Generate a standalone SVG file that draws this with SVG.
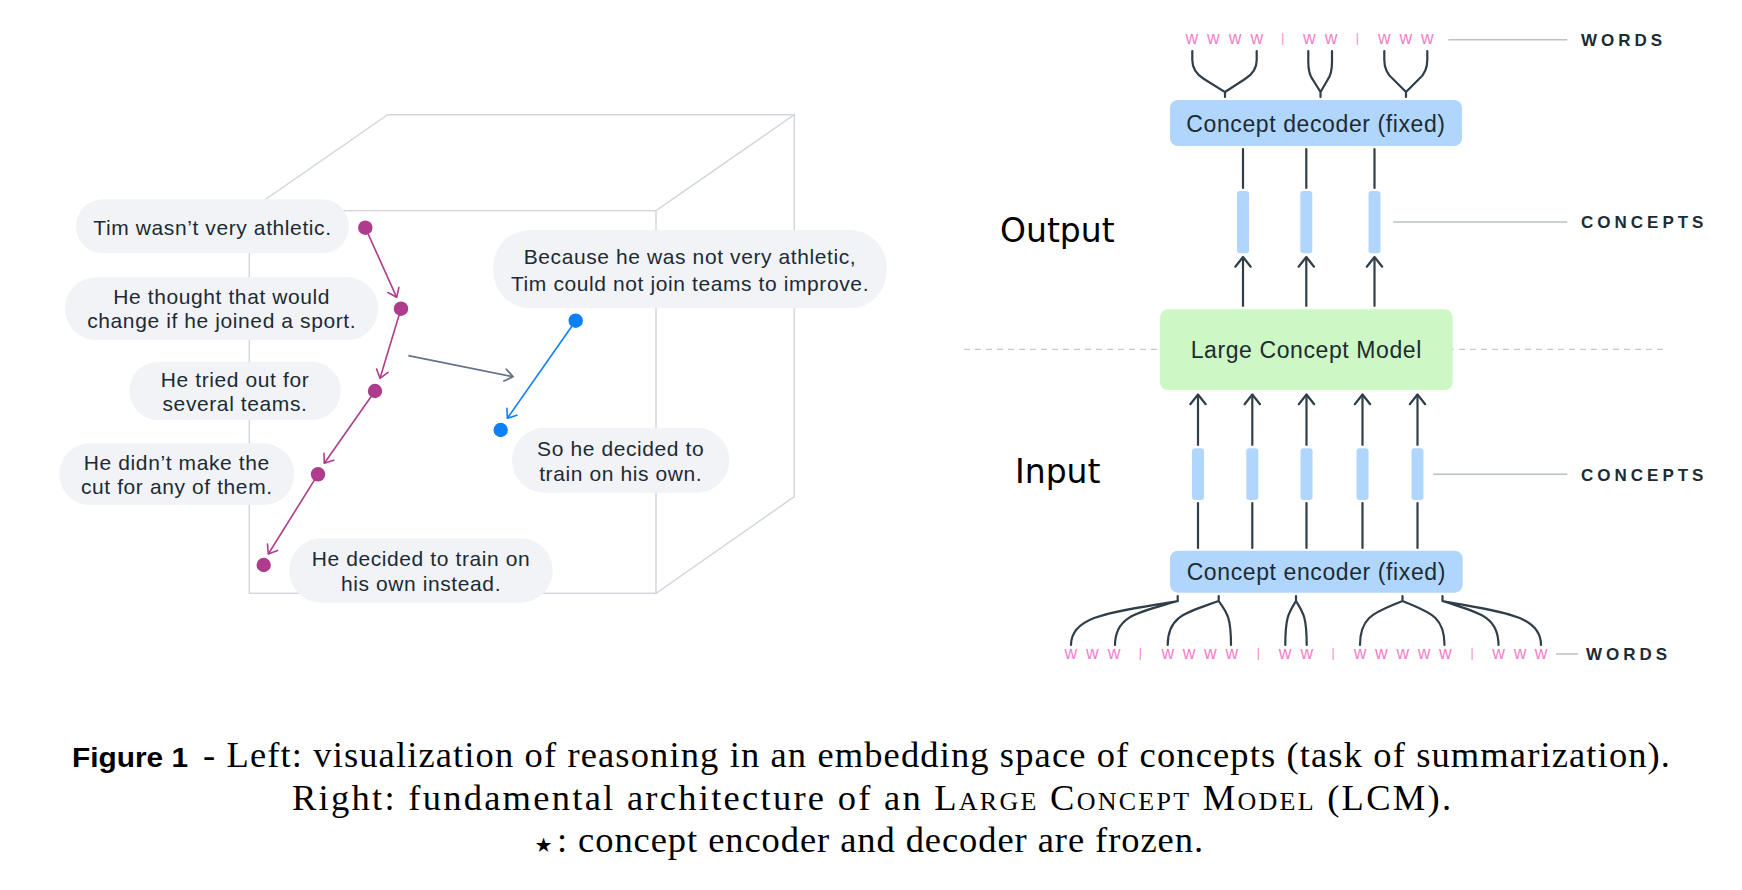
<svg xmlns="http://www.w3.org/2000/svg" width="1742" height="890" viewBox="0 0 1742 890">
<style>
.cube{fill:none;stroke:#d3d8df;stroke-width:1.5}
.bub{fill:#f1f3f7}
.bt{font-family:'Liberation Sans',Arial,sans-serif;font-size:21px;fill:#1c2b33;text-anchor:middle;letter-spacing:0.6px}
.pdot{fill:#ae3c8c}
.bdot{fill:#0b80f7}
.box{fill:#b1d6fd}
.lcm{fill:#cdf7c4}
.bar{fill:#b1d6fd}
.lbl{font-family:'Liberation Sans',Arial,sans-serif;font-size:23px;fill:#1c2b33;text-anchor:middle;letter-spacing:0.6px}
.side{font-family:'DejaVu Sans',sans-serif;font-size:33px;fill:#000}
.tag{font-family:'Liberation Sans',Arial,sans-serif;font-size:17px;font-weight:bold;fill:#1c2b33;letter-spacing:4px}
.w{font-family:'Liberation Sans',Arial,sans-serif;font-size:17.5px;fill:#f47fcb;text-anchor:middle}
.sep{font-size:12px}
.guide{stroke:#b9c1cb;stroke-width:1.5;fill:none}
.dash{stroke:#c3c9d1;stroke-width:1.3;stroke-dasharray:6 5;fill:none}
.dk{stroke:#2f3e48;stroke-width:2.2;fill:none;stroke-linecap:round}
.pa{stroke:#ae3c8c;stroke-width:1.6;fill:none;marker-end:url(#ahP)}
.ga{stroke:#66738a;stroke-width:1.8;fill:none;marker-end:url(#ahG)}
.ba{stroke:#0b80f7;stroke-width:1.6;fill:none;marker-end:url(#ahB)}
.up{stroke:#2f3e48;stroke-width:2.2;fill:none;marker-end:url(#ahD)}
.cap{font-family:'Liberation Serif','Times New Roman',serif;font-size:36.5px;fill:#000}
.capb{font-family:'Liberation Sans',Arial,sans-serif;font-size:28px;font-weight:bold;fill:#000}
.star{font-family:'DejaVu Sans',sans-serif;font-size:40px}
</style>
<defs>
<marker id="ahD" markerUnits="userSpaceOnUse" viewBox="-14 -12 24 24" markerWidth="24" markerHeight="24" refX="0" refY="0" orient="auto" overflow="visible"><path d="M-9.7,-7.7 L0,0 L-9.7,7.7" fill="none" stroke="#2f3e48" stroke-width="2.2" stroke-linecap="round" stroke-linejoin="round"/></marker>
<marker id="ahP" markerUnits="userSpaceOnUse" viewBox="-14 -12 24 24" markerWidth="24" markerHeight="24" refX="0" refY="0" orient="auto" overflow="visible"><path d="M-8,-6 L0,0 L-8,6" fill="none" stroke="#ae3c8c" stroke-width="1.6" stroke-linecap="round" stroke-linejoin="round"/></marker>
<marker id="ahG" markerUnits="userSpaceOnUse" viewBox="-14 -12 24 24" markerWidth="24" markerHeight="24" refX="0" refY="0" orient="auto" overflow="visible"><path d="M-8,-6 L0,0 L-8,6" fill="none" stroke="#66738a" stroke-width="1.8" stroke-linecap="round" stroke-linejoin="round"/></marker>
<marker id="ahB" markerUnits="userSpaceOnUse" viewBox="-14 -12 24 24" markerWidth="24" markerHeight="24" refX="0" refY="0" orient="auto" overflow="visible"><path d="M-8,-6 L0,0 L-8,6" fill="none" stroke="#0b80f7" stroke-width="1.6" stroke-linecap="round" stroke-linejoin="round"/></marker>
</defs>
<rect width="1742" height="890" fill="#fff"/>

<g id="cube">
<rect class="cube" x="249.3" y="210.7" width="406.7" height="382.6"/>
<path class="cube" d="M249.3,210.7 L387.7,114.7 L794.3,114.7 L794.3,496.7 L656,593.3 M656,210.7 L794.3,114.7"/>
</g>

<g id="node-s1"><rect class="bub" x="76" y="199.3" width="273" height="54" rx="27"/><text class="bt" x="212.5" y="235">Tim wasn’t very athletic.</text></g>
<g id="node-s2"><rect class="bub" x="65" y="277.3" width="313.3" height="62.7" rx="31"/><text class="bt" x="221.7" y="304">He thought that would</text><text class="bt" x="221.7" y="328.3">change if he joined a sport.</text></g>
<g id="node-s3"><rect class="bub" x="129.3" y="361.7" width="211.4" height="58.3" rx="29"/><text class="bt" x="235" y="387.3">He tried out for</text><text class="bt" x="235" y="411">several teams.</text></g>
<g id="node-s4"><rect class="bub" x="59.3" y="443.3" width="235" height="61.7" rx="30.8"/><text class="bt" x="176.8" y="470">He didn’t make the</text><text class="bt" x="176.8" y="494.3">cut for any of them.</text></g>
<g id="node-s5"><rect class="bub" x="289.3" y="538.3" width="263.4" height="64.4" rx="32"/><text class="bt" x="421" y="565.7">He decided to train on</text><text class="bt" x="421" y="591">his own instead.</text></g>
<g id="node-t1"><rect class="bub" x="493.3" y="230" width="393.4" height="78.3" rx="37"/><text class="bt" x="690" y="264.3">Because he was not very athletic,</text><text class="bt" x="690" y="290.7">Tim could not join teams to improve.</text></g>
<g id="node-t2"><rect class="bub" x="512" y="427.7" width="217.3" height="65" rx="32.5"/><text class="bt" x="620.7" y="455.7">So he decided to</text><text class="bt" x="620.7" y="481">train on his own.</text></g>

<g id="connectors-left">
<line class="pa" x1="365.3" y1="227.7" x2="396.7" y2="297.3"/>
<line class="pa" x1="401" y1="308.7" x2="380" y2="378.3"/>
<line class="pa" x1="375" y1="391" x2="324.3" y2="463.3"/>
<line class="pa" x1="318" y1="474.3" x2="268.3" y2="554"/>
<line class="ga" x1="408.3" y1="355.7" x2="513" y2="376.7"/>
<line class="ba" x1="575.7" y1="320.7" x2="507.3" y2="418.3"/>
</g>

<g id="points">
<circle class="pdot" cx="365.3" cy="227.7" r="7.2"/>
<circle class="pdot" cx="401" cy="308.7" r="7.2"/>
<circle class="pdot" cx="375" cy="391" r="7.2"/>
<circle class="pdot" cx="318" cy="474.3" r="7.2"/>
<circle class="pdot" cx="263.7" cy="565" r="7.2"/>
<circle class="bdot" cx="575.7" cy="320.7" r="7.2"/>
<circle class="bdot" cx="500.7" cy="430" r="7.2"/>
</g>

<g id="guides">
<line class="dash" x1="964" y1="349.3" x2="1663" y2="349.3"/>
<line class="guide" x1="1448.3" y1="39.7" x2="1567.3" y2="39.7"/>
<line class="guide" x1="1393.3" y1="222" x2="1567.3" y2="222"/>
<line class="guide" x1="1433.3" y1="474.3" x2="1567.3" y2="474.3"/>
<line class="guide" x1="1556" y1="654" x2="1578" y2="654"/>
</g>

<g id="labels">
<text class="side" x="1000" y="241.7">Output</text>
<text class="side" x="1015" y="483.3">Input</text>
<text class="tag" x="1581" y="46">WORDS</text>
<text class="tag" x="1581" y="228">CONCEPTS</text>
<text class="tag" x="1581" y="480.5">CONCEPTS</text>
<text class="tag" x="1586" y="660">WORDS</text>
</g>

<g id="words-top">
<text class="w" y="44"><tspan x="1191.7 1202.5 1213.3 1224.2 1235 1245.8 1256.7">w w w w</tspan><tspan class="sep" x="1269.7 1282.7 1296" y="41.5"> | </tspan><tspan x="1309.3 1320.2 1331" y="44">w w</tspan><tspan class="sep" x="1344 1357.3 1370.8" y="41.5"> | </tspan><tspan x="1384.3 1395 1405.7 1416.5 1427.3" y="44">w w w</tspan></text>
</g>
<g id="words-bottom">
<text class="w" y="659.3"><tspan x="1070.7 1081.5 1092.3 1103.2 1114">w w w</tspan><tspan class="sep" x="1127 1140.3 1154" y="656.8"> | </tspan><tspan x="1167.7 1178.4 1189 1199.7 1210.3 1221 1231.7" y="659.3">w w w w</tspan><tspan class="sep" x="1245 1258.3 1271.6" y="656.8"> | </tspan><tspan x="1285 1295.8 1306.7" y="659.3">w w</tspan><tspan class="sep" x="1320 1333 1346.5" y="656.8"> | </tspan><tspan x="1360 1370.7 1381.3 1392 1402.7 1413.4 1424 1434.7 1445.3" y="659.3">w w w w w</tspan><tspan class="sep" x="1458.7 1472 1485.3" y="656.8"> | </tspan><tspan x="1498.5 1509.2 1520 1530.5 1541" y="659.3">w w w</tspan></text>
</g>

<g id="node-decoder"><rect class="box" x="1170" y="100" width="292" height="46" rx="8"/><text class="lbl" x="1316" y="131.7">Concept decoder (fixed)</text></g>
<g id="node-lcm"><rect class="lcm" x="1160" y="309.3" width="292.7" height="80.7" rx="8"/><text class="lbl" x="1306.3" y="358.3">Large Concept Model</text></g>
<g id="node-encoder"><rect class="box" x="1170" y="550.7" width="292.7" height="42" rx="8"/><text class="lbl" x="1316.3" y="580">Concept encoder (fixed)</text></g>

<g id="node-out-concepts">
<rect class="bar" x="1237" y="191" width="12" height="62.3" rx="3"/>
<rect class="bar" x="1300.3" y="191" width="12" height="62.3" rx="3"/>
<rect class="bar" x="1368.5" y="191" width="12" height="62.3" rx="3"/>
</g>
<g id="node-in-concepts">
<rect class="bar" x="1192" y="448.3" width="12" height="51.7" rx="3"/>
<rect class="bar" x="1246.3" y="448.3" width="12" height="51.7" rx="3"/>
<rect class="bar" x="1300.5" y="448.3" width="12" height="51.7" rx="3"/>
<rect class="bar" x="1356.5" y="448.3" width="12" height="51.7" rx="3"/>
<rect class="bar" x="1411.5" y="448.3" width="12" height="51.7" rx="3"/>
</g>

<g id="connectors-right">
<path class="dk" d="M1192.3,51 V60 Q1192.3,72 1204,79 L1225,92 V97 M1256.7,51 V60 Q1256.7,72 1245,79 L1225,92"/>
<path class="dk" d="M1308.3,51 V62 Q1308.3,74 1313,80 L1320.5,92 V97 M1332,51 V62 Q1332,74 1327.5,80 L1320.5,92"/>
<path class="dk" d="M1384.3,51 V60 Q1384.3,72 1393,79 L1406,92 V97 M1427.3,51 V60 Q1427.3,72 1419,79 L1406,92"/>
<line class="dk" x1="1243" y1="149" x2="1243" y2="188"/>
<line class="dk" x1="1306.3" y1="149" x2="1306.3" y2="188"/>
<line class="dk" x1="1374.5" y1="149" x2="1374.5" y2="188"/>
<line class="up" x1="1243" y1="306.7" x2="1243" y2="257"/>
<line class="up" x1="1306.3" y1="306.7" x2="1306.3" y2="257"/>
<line class="up" x1="1374.5" y1="306.7" x2="1374.5" y2="257"/>
<line class="up" x1="1198" y1="445.7" x2="1198" y2="394.5"/>
<line class="up" x1="1252.3" y1="445.7" x2="1252.3" y2="394.5"/>
<line class="up" x1="1306.5" y1="445.7" x2="1306.5" y2="394.5"/>
<line class="up" x1="1362.5" y1="445.7" x2="1362.5" y2="394.5"/>
<line class="up" x1="1417.5" y1="445.7" x2="1417.5" y2="394.5"/>
<line class="dk" x1="1198" y1="503" x2="1198" y2="548"/>
<line class="dk" x1="1252.3" y1="503" x2="1252.3" y2="548"/>
<line class="dk" x1="1306.5" y1="503" x2="1306.5" y2="548"/>
<line class="dk" x1="1362.5" y1="503" x2="1362.5" y2="548"/>
<line class="dk" x1="1417.5" y1="503" x2="1417.5" y2="548"/>
<path class="dk" d="M1177.7,596 V601 C1113.7,612 1071,615 1071,645 M1177.7,601 C1140.1,612 1115,615 1115,645"/>
<path class="dk" d="M1218.7,596 V601 C1188.1,612 1167.7,615 1167.7,645 M1218.7,601 C1226.1,612 1231,615 1231,645"/>
<path class="dk" d="M1296,596 V601 C1289.6,612 1285.3,615 1285.3,645 M1296,601 C1302.4,612 1306.7,615 1306.7,645"/>
<path class="dk" d="M1402.5,596 V601 C1377,612 1360,615 1360,645 M1402.5,601 C1427.7,612 1444.5,615 1444.5,645"/>
<path class="dk" d="M1442.5,596 V601 C1476.1,612 1498.5,615 1498.5,645 M1442.5,601 C1501.6,612 1541,615 1541,645"/>
</g>

<g id="caption">
<text class="capb" x="72" y="767" textLength="116" lengthAdjust="spacingAndGlyphs">Figure 1</text>
<text class="cap" x="203" y="767" textLength="1467" lengthAdjust="spacing">- Left: visualization of reasoning in an embedding space of concepts (task of summarization).</text>
<text class="cap" x="292" y="810" textLength="1159" lengthAdjust="spacing">Right: fundamental architecture of an <tspan font-variant="small-caps">Large Concept Model</tspan> (LCM).</text>
<text class="cap" x="531" y="852" textLength="672" lengthAdjust="spacing"><tspan class="star" dy="6">⋆</tspan><tspan dy="-6">: concept encoder and decoder are frozen.</tspan></text>
</g>
</svg>
